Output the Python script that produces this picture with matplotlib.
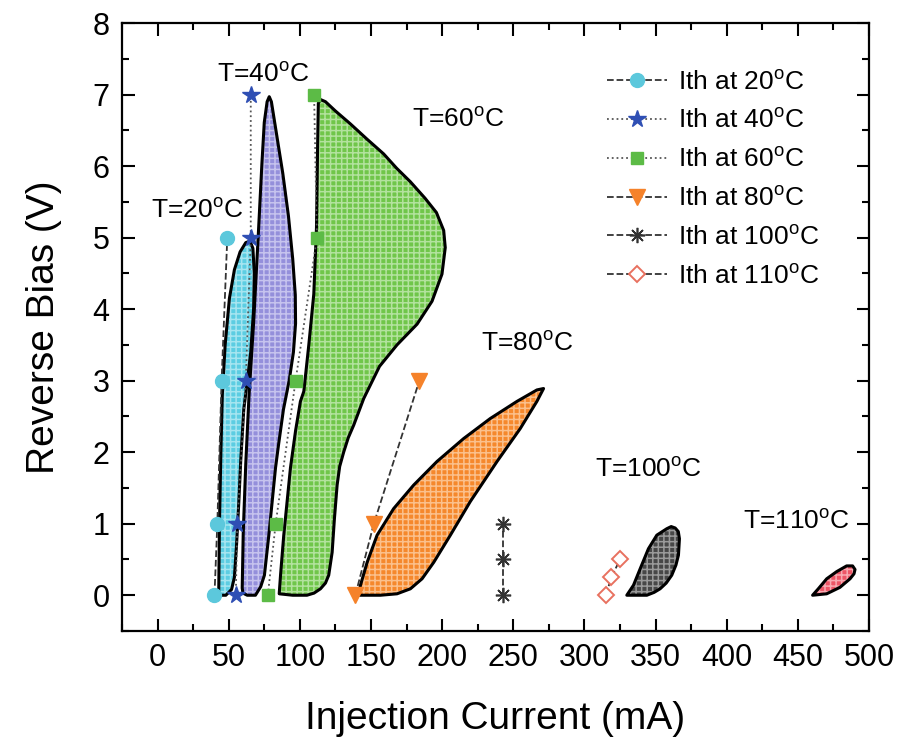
import matplotlib
matplotlib.use("Agg")
import matplotlib.pyplot as plt
from matplotlib.ticker import MultipleLocator

plt.rcParams['font.family'] = ['Liberation Sans', 'DejaVu Sans']
plt.rcParams['mathtext.fontset'] = 'custom'
plt.rcParams['mathtext.rm'] = 'Liberation Sans'
plt.rcParams['mathtext.it'] = 'Liberation Sans'
plt.rcParams['hatch.linewidth'] = 1.1

# ---- Ith data (Injection current mA, reverse bias V) ----
ith20_I = [40, 42, 45, 49]
ith20_V = [0, 1, 3, 5]
ith40_I = [55, 56, 62, 65.5, 65.5]
ith40_V = [0, 1, 3, 5, 7]
ith60_I = [77.5, 83, 97, 112, 110]
ith60_V = [0, 1, 3, 5, 7]
ith80_I = [139, 152, 184]
ith80_V = [0, 1, 3]
ith100_I = [243, 243, 243]
ith100_V = [0, 0.5, 1]
ith110_I = [315, 319, 325]
ith110_V = [0, 0.25, 0.5]

# ---- operating-region boundaries ----
reg20_I = [43, 43.5, 44.5, 45.5, 47.5, 50.5, 54, 58, 62, 65, 67, 68, 67.5, 65.5,
           62.5, 60.6, 58.5, 57.1, 55.5, 54, 52, 48, 44]
reg20_V = [0.05, 1.0, 2.0, 2.8, 3.5, 4.15, 4.55, 4.8, 4.93, 4.95, 4.85, 4.5, 4.0, 3.4,
           2.9, 2.6, 1.9, 1.3, 0.7, 0.25, 0.08, 0.0, 0.0]
reg40_I = [59.5, 60.2, 61, 62, 64.3, 67.5, 70.8, 73.3, 75, 77, 78.5, 80, 82, 84, 88,
           92, 95, 96.8, 97, 95.5, 92.5, 88.5, 85, 82.9, 80.5, 78.2, 75.1, 72.5, 68.8,
           63, 60]
reg40_V = [0.1, 0.86, 1.3, 1.84, 2.8, 3.81, 5.04, 6.02, 6.61, 6.9, 6.97, 6.9, 6.65,
           6.4, 5.9, 5.3, 4.7, 4.2, 3.8, 3.4, 3.0, 2.6, 2.1, 1.78, 1.3, 0.84, 0.28,
           0.12, 0.0, 0.0, 0.03]
reg60_I = [85.5, 95, 105, 110, 114.5, 118, 120.3, 122.7, 124.3, 126.2, 128, 130.8,
           134, 137.9, 144.9, 156, 168.3, 182.4, 192.9, 199.9, 202.2, 201.1, 196, 188,
           177.7, 168, 158.9, 147, 135.5, 125, 118, 114.5, 113, 112.5, 111.7, 109.8,
           106.3, 102.8, 100.4, 97, 93.4, 88.7, 86.5]
reg60_V = [0.02, 0.0, 0.0, 0.03, 0.09, 0.17, 0.28, 0.6, 1.07, 1.54, 1.8, 2.0, 2.2,
           2.38, 2.75, 3.2, 3.5, 3.79, 4.11, 4.49, 4.86, 5.1, 5.35, 5.55, 5.78, 5.97,
           6.17, 6.38, 6.59, 6.77, 6.9, 6.93, 6.88, 6.3, 5.14, 4.21, 3.5, 2.85, 2.71,
           2.3, 1.78, 0.84, 0.3]
reg80_I = [141.4, 156.6, 168.3, 177.7, 185.9, 194.1, 205.8, 219.8, 238.6, 254.9, 266.6,
           271.3, 266.6, 252.6, 233.8, 215.1, 196.4, 180, 165.9, 154.3, 147.3, 142.6]
reg80_V = [0, 0, 0.02, 0.09, 0.23, 0.46, 0.84, 1.31, 1.87, 2.33, 2.71, 2.89, 2.87,
           2.71, 2.47, 2.19, 1.87, 1.54, 1.21, 0.84, 0.46, 0.14]
reg100_I = [329.8, 343.9, 349, 353.2, 357.5, 361.4, 364.3, 366.1, 366.8, 366, 363.8,
            361, 357.9, 350.9, 345, 339.2, 334.5]
reg100_V = [0, 0, 0.04, 0.09, 0.17, 0.28, 0.42, 0.56, 0.79, 0.89, 0.94, 0.96, 0.93,
            0.84, 0.65, 0.37, 0.14]
reg110_I = [460.4, 470.3, 479.6, 486.7, 489.5, 490.2, 488.5, 484.3, 477.3, 470.3, 464.4]
reg110_V = [0, 0.02, 0.11, 0.23, 0.3, 0.36, 0.41, 0.41, 0.33, 0.23, 0.09]

temp_labels = ['T=20$^{\\rm o}$C', 'T=40$^{\\rm o}$C', 'T=60$^{\\rm o}$C',
               'T=80$^{\\rm o}$C', 'T=100$^{\\rm o}$C', 'T=110$^{\\rm o}$C']
temp_label_I = [28, 74, 211, 260, 345, 449]
temp_label_V = [5.38, 7.27, 6.64, 3.51, 1.75, 1.02]

legend_labels = ['Ith at 20$^{\\rm o}$C', 'Ith at 40$^{\\rm o}$C', 'Ith at 60$^{\\rm o}$C',
                 'Ith at 80$^{\\rm o}$C', 'Ith at 100$^{\\rm o}$C', 'Ith at 110$^{\\rm o}$C']

fig = plt.figure(figsize=(9.03, 7.42), dpi=100)
ax = fig.add_axes([0.1351, 0.1496, 0.8272, 0.8194])

regions = [
    (reg40_I, reg40_V, '#948fdb', '#c6c3ee'),
    (reg20_I, reg20_V, '#5ccde2', '#a6e5f0'),
    (reg60_I, reg60_V, '#70c64a', '#b3e29e'),
    (reg80_I, reg80_V, '#f5882c', '#fbc08c'),
    (reg100_I, reg100_V, '#474747', '#9a9a9a'),
    (reg110_I, reg110_V, '#ec5566', '#f7a9b1'),
]
for xs, ys, fc, hc in regions:
    ax.fill(xs, ys, facecolor=fc, edgecolor=hc, hatch='+++', linewidth=0, zorder=2)
    ax.fill(xs, ys, facecolor='none', edgecolor='black', linewidth=2.2,
            joinstyle='round', zorder=3)

lc = '#333333'
ax.plot(ith20_I, ith20_V, linestyle='--', color=lc, lw=1.3, marker='o', ms=10,
        mfc='#5cc8dc', mec='#5cc8dc', label=legend_labels[0], zorder=5)
ax.plot(ith40_I, ith40_V, linestyle=':', color='#555555', lw=1.3, marker='*', ms=13,
        mfc='#2f4fb4', mec='#2f4fb4', label=legend_labels[1], zorder=5)
ax.plot(ith60_I, ith60_V, linestyle=':', color='#555555', lw=1.3, marker='s', ms=9,
        mfc='#5cbb46', mec='#5cbb46', label=legend_labels[2], zorder=5)
ax.plot(ith80_I, ith80_V, linestyle='--', color=lc, lw=1.3, marker='v', ms=12,
        mfc='#f5822a', mec='#f5822a', label=legend_labels[3], zorder=5)
ax.plot(ith100_I, ith100_V, linestyle='--', color=lc, lw=1.3, marker=(8, 2, 0), ms=11,
        mfc='#333333', mec='#333333', mew=1.2, label=legend_labels[4], zorder=5)
ax.plot(ith110_I, ith110_V, linestyle='--', color=lc, lw=1.3, marker='D', ms=8.5,
        mfc='white', mec='#e8715f', mew=1.4, label=legend_labels[5], zorder=5)

for txt, xi, yi in zip(temp_labels, temp_label_I, temp_label_V):
    ax.text(xi, yi, txt, ha='center', va='center', fontsize=19, zorder=6)

ax.set_xlim(-25, 500)
ax.set_ylim(-0.5, 8)
ax.xaxis.set_major_locator(MultipleLocator(50))
ax.xaxis.set_minor_locator(MultipleLocator(25))
ax.yaxis.set_major_locator(MultipleLocator(1))
ax.yaxis.set_minor_locator(MultipleLocator(0.5))
ax.tick_params(which='both', direction='in', top=True, right=True, width=1.5)
ax.tick_params(which='major', length=9, labelsize=22, pad=9)
ax.tick_params(which='minor', length=5)
for sp in ax.spines.values():
    sp.set_linewidth(1.6)

ax.set_xlabel('Injection Current (mA)', fontsize=28, labelpad=20)
ax.set_ylabel('Reverse Bias (V)', fontsize=28, labelpad=22)

leg = ax.legend(loc='upper left', bbox_to_anchor=(0.649, 0.922), frameon=False,
                fontsize=19, handlelength=2.3, handletextpad=0.4, labelspacing=0.56,
                borderpad=0, borderaxespad=0)

fig.savefig('out.png', dpi=100)
